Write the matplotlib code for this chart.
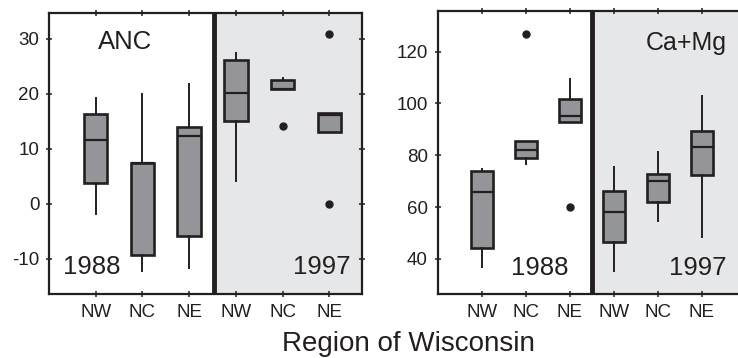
import matplotlib
matplotlib.use("Agg")
import matplotlib.pyplot as plt

plt.rcParams['font.family'] = ['Liberation Sans', 'DejaVu Sans']

regions = ["NW", "NC", "NE", "NW", "NC", "NE"]
positions = [1, 2, 3, 4, 5, 6]

# box stats per region: 1988 NW, NC, NE then 1997 NW, NC, NE
anc_whislo = [-1.8, -12.2, -11.6, 4.2, 20.9, 13.1]
anc_q1 = [3.7, -9.3, -5.9, 15.1, 20.9, 13.1]
anc_med = [11.6, 7.4, 12.3, 20.2, 20.9, 16.1]
anc_q3 = [16.4, 7.45, 14.0, 26.2, 22.5, 16.6]
anc_whishi = [19.2, 20.0, 21.8, 27.4, 22.9, 16.6]
anc_fliers = [[], [], [], [], [14.1], [30.8, 0.0]]

cam_whislo = [36.7, 76.5, 92.7, 35.2, 54.7, 48.3]
cam_q1 = [44.1, 78.9, 92.7, 46.5, 62.0, 72.5]
cam_med = [65.9, 82.0, 95.3, 57.9, 70.0, 83.3]
cam_q3 = [74.0, 85.4, 101.7, 66.3, 72.9, 89.5]
cam_whishi = [74.5, 85.4, 109.3, 75.3, 81.1, 102.8]
cam_fliers = [[], [126.7], [59.9], [], [], []]

anc_ticks = [-10, 0, 10, 20, 30]
cam_ticks = [40, 60, 80, 100, 120]

dark = "#231f20"
box_gray = "#939598"
shade = "#e6e7e8"


def make_stats(lo, q1, med, q3, hi, fl):
    return [dict(whislo=a, q1=b, med=c, q3=d, whishi=e, fliers=f)
            for a, b, c, d, e, f in zip(lo, q1, med, q3, hi, fl)]


def draw_panel(ax, stats, xmax, divider, ylim, yticks):
    ax.set_xlim(0, xmax)
    ax.set_ylim(*ylim)
    ax.axvspan(divider, xmax, color=shade, zorder=0)
    ax.bxp(stats, positions=positions, widths=0.5, patch_artist=True,
           showcaps=False,
           boxprops=dict(facecolor=box_gray, edgecolor=dark, linewidth=1.9),
           medianprops=dict(color=dark, linewidth=1.6),
           whiskerprops=dict(color=dark, linewidth=1.4),
           flierprops=dict(marker='o', markerfacecolor=dark,
                           markeredgecolor=dark, markersize=5))
    ax.axvline(divider, color=dark, linewidth=3.5, zorder=5)
    ax.set_xticks(positions)
    ax.set_xticklabels(regions)
    ax.set_yticks(yticks)
    ax.set_yticklabels([str(t) for t in yticks])
    for s in ax.spines.values():
        s.set_color(dark)
        s.set_linewidth(1.6)
    ax.tick_params(axis='both', direction='inout', length=5, width=1.1,
                   color=dark, labelsize=13.5, labelcolor=dark,
                   top=True, right=True)
    ax.tick_params(axis='x', pad=5)
    ax.tick_params(axis='y', pad=4.5)
    return ax


fig = plt.figure(figsize=(7.38, 3.58), dpi=100)

ax1 = fig.add_axes([49 / 738, 64 / 358, 313 / 738, 281 / 358])
draw_panel(ax1, make_stats(anc_whislo, anc_q1, anc_med, anc_q3, anc_whishi, anc_fliers),
           6.7, 3.53, (-16.4, 34.7), anc_ticks)
ax1.text(0.243, 0.897, "ANC", transform=ax1.transAxes, ha='center', va='center',
         fontsize=18.5, color=dark)
ax1.text(0.045, 0.096, "1988", transform=ax1.transAxes, ha='left', va='center',
         fontsize=18.5, color=dark)
ax1.text(0.962, 0.096, "1997", transform=ax1.transAxes, ha='right', va='center',
         fontsize=18.5, color=dark)

ax2 = fig.add_axes([437.7 / 738, 64 / 358, 307.3 / 738, 283 / 358])
draw_panel(ax2, make_stats(cam_whislo, cam_q1, cam_med, cam_q3, cam_whishi, cam_fliers),
           6.98, 3.51, (26.4, 135.7), cam_ticks)
ax2.text(0.941, 0.887, "Ca+Mg", transform=ax2.transAxes, ha='right', va='center',
         fontsize=18, color=dark)
ax2.text(0.333, 0.092, "1988", transform=ax2.transAxes, ha='center', va='center',
         fontsize=18.5, color=dark)
ax2.text(0.941, 0.092, "1997", transform=ax2.transAxes, ha='right', va='center',
         fontsize=18.5, color=dark)

fig.text(0.553, 0.0196, "Region of Wisconsin", ha='center', va='baseline',
         fontsize=20, color=dark)

fig.savefig("out.png", dpi=100)
